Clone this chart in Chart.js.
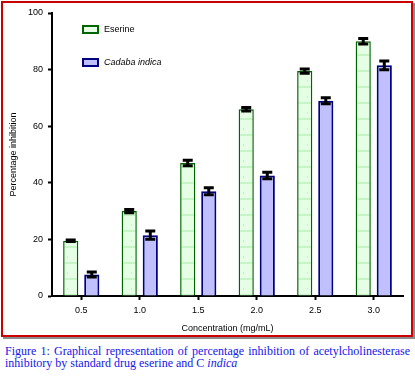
<!DOCTYPE html>
<html>
<head>
<meta charset="utf-8">
<script src="https://cdn.jsdelivr.net/npm/chart.js@4.4.0/dist/chart.umd.min.js"></script>
<style>
  html, body { margin: 0; padding: 0; background: #fff; width: 415px; height: 376px; overflow: hidden; }
  #frame { position: absolute; left: 1px; top: 1px; width: 412px; height: 336px; box-sizing: border-box;
           border: 2px solid #cc0000; box-shadow: 2px 2px 0 0 #8c8c8c; }
  #wrap { position: absolute; left: 0; top: 0; width: 415px; height: 340px; }
  #caption { position: absolute; left: 5px; top: 345px; width: 405px; font-family: "Liberation Serif", "Times New Roman", serif;
             font-size: 12px; line-height: 12px; color: #1515ee; }
  #caption .l1 { text-align: justify; text-align-last: justify; white-space: nowrap; }
  #caption .l2 { text-align: left; }
</style>
</head>
<body>
<div id="frame"></div>
<div id="wrap"><canvas id="c" width="415" height="340"></canvas></div>
<div id="caption"><div class="l1">Figure 1: Graphical representation of percentage inhibition of acetylcholinesterase</div><div class="l2">inhibitory by standard drug eserine and C <i>indica</i></div></div>
<script>
const categories = ["0.5", "1.0", "1.5", "2.0", "2.5", "3.0"];
const seriesNames = ["Eserine", "Cadaba indica"];
const eserine = [19.5, 30, 47, 66, 79.5, 90];
const eserineErr = [0.6, 0.9, 1.3, 1.0, 1.1, 1.3];
const cadaba = [7.6, 21.5, 37, 42.6, 69, 81.5];
const cadabaErr = [1.2, 1.8, 1.6, 1.5, 1.4, 1.9];
const yTicks = [0, 20, 40, 60, 80, 100];

function makeGreenPattern() {
  const p = document.createElement('canvas');
  p.width = 16; p.height = 16;
  const g = p.getContext('2d');
  g.fillStyle = '#e4ffe4';
  g.fillRect(0, 0, 16, 16);
  g.fillStyle = '#c6f4c6';
  g.fillRect(0, 6, 16, 2);
  g.fillRect(3, 0, 1, 2);
  return g.createPattern(p, 'repeat');
}
const greenFill = makeGreenPattern();

const errors = [eserineErr, cadabaErr];

const errorBarPlugin = {
  id: 'errorBars',
  afterDatasetsDraw(chart) {
    const ctx = chart.ctx;
    const ys = chart.scales.y;
    chart.data.datasets.forEach((ds, i) => {
      const meta = chart.getDatasetMeta(i);
      meta.data.forEach((el, j) => {
        const v = ds.data[j], e = errors[i][j];
        const top = ys.getPixelForValue(v + e);
        const bot = ys.getPixelForValue(v - e);
        ctx.save();
        ctx.strokeStyle = '#000';
        ctx.lineWidth = 3;
        ctx.beginPath();
        ctx.moveTo(el.x, top); ctx.lineTo(el.x, bot);
        ctx.moveTo(el.x - 5, top + 1); ctx.lineTo(el.x + 5, top + 1);
        ctx.moveTo(el.x - 5, bot - 1); ctx.lineTo(el.x + 5, bot - 1);
        ctx.stroke();
        ctx.restore();
      });
    });
  }
};

const legendPlugin = {
  id: 'innerLegend',
  afterDraw(chart) {
    const ctx = chart.ctx;
    const items = [
      { y: 25, fill: greenFill, border: '#006400', font: '9px "Liberation Sans", Arial, sans-serif' },
      { y: 58, fill: '#c0c0ff', border: '#000080', font: 'italic 9px "Liberation Sans", Arial, sans-serif' }
    ];
    items.forEach((it, i) => {
      ctx.save();
      ctx.fillStyle = it.fill;
      ctx.fillRect(82, it.y, 17, 9);
      ctx.strokeStyle = it.border;
      ctx.lineWidth = 2;
      ctx.strokeRect(83, it.y + 1, 15, 7);
      ctx.fillStyle = '#000';
      ctx.font = it.font;
      ctx.textBaseline = 'middle';
      ctx.fillText(chart.data.datasets[i].label, 104, it.y + 4.5);
      ctx.restore();
    });
  }
};

new Chart(document.getElementById('c'), {
  type: 'bar',
  data: {
    labels: categories,
    datasets: [
      { label: seriesNames[0], data: eserine, backgroundColor: greenFill, borderColor: '#006400', borderWidth: 1.5,
        categoryPercentage: 0.72, barPercentage: 0.72 },
      { label: seriesNames[1], data: cadaba, backgroundColor: '#c0c0ff', borderColor: '#000080', borderWidth: 2,
        categoryPercentage: 0.72, barPercentage: 0.72 }
    ]
  },
  options: {
    responsive: false,
    animation: false,
    layout: { padding: { top: 13, right: 12, left: 0, bottom: 0 } },
    plugins: { legend: { display: false }, tooltip: { enabled: false } },
    scales: {
      x: {
        grid: { display: true, drawOnChartArea: false, offset: false, drawTicks: true, tickLength: 4, tickWidth: 2, tickColor: '#000', color: '#000' },
        border: { display: true, color: '#000', width: 2 },
        ticks: { color: '#000', font: { family: '"Liberation Sans", Arial, sans-serif', size: 9 }, padding: 5, maxRotation: 0 },
        title: { display: true, text: 'Concentration (mg/mL)', color: '#000', font: { family: '"Liberation Sans", Arial, sans-serif', size: 9 }, padding: { top: 0, bottom: 6 } },
        afterFit(scale) { scale.height = 44; }
      },
      y: {
        min: 0, max: 100,
        afterBuildTicks(scale) { scale.ticks = yTicks.map(v => ({ value: v })); },
        grid: { display: true, drawOnChartArea: false, drawTicks: true, tickLength: 4, tickWidth: 2, tickColor: '#000', color: '#000' },
        border: { display: true, color: '#000', width: 2 },
        ticks: { color: '#000', font: { family: '"Liberation Sans", Arial, sans-serif', size: 9 }, padding: 5 },
        title: { display: true, text: 'Percentage inhibition', color: '#000', font: { family: '"Liberation Sans", Arial, sans-serif', size: 9 }, padding: { top: 8, bottom: 0 } },
        afterFit(scale) { scale.width = 52; }
      }
    }
  },
  plugins: [errorBarPlugin, legendPlugin]
});
</script>
</body>
</html>
